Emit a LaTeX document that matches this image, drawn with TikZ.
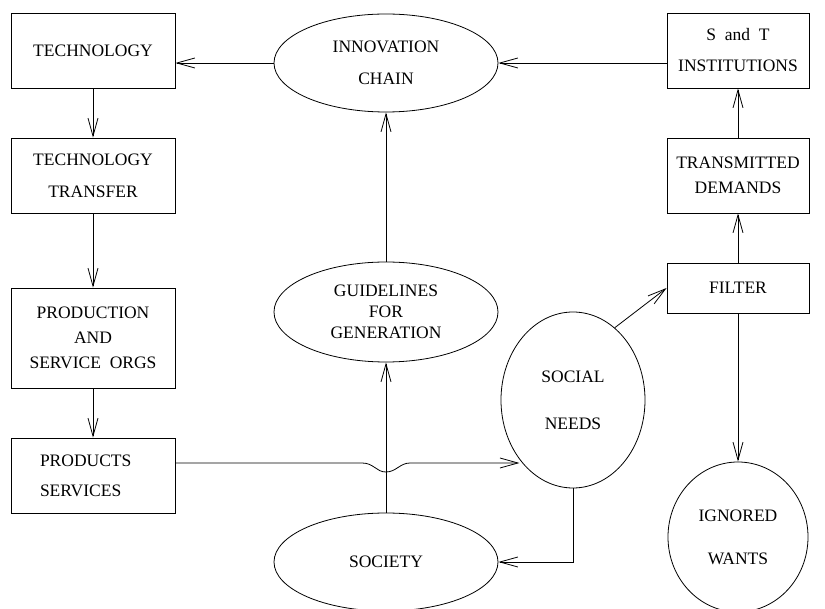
\documentclass[tikz,border=0pt]{standalone}
\usepackage{fontspec}
\setmainfont{Liberation Serif}
\usetikzlibrary{arrows.meta, shapes.geometric}

\begin{document}
\begin{tikzpicture}[x=1pt, y=-1pt,
  box/.style={draw, rectangle, minimum width=164pt, minimum height=75pt, inner sep=0pt,
              align=center},
  oval/.style={draw, ellipse, inner sep=0pt, align=center},
  lh/.style={font=\fontsize{17.5}{#1}\selectfont},
  lh/.default=21,
  arr/.style={-{Straight Barb[length=18pt, width=10pt]}},
  line width=0.8pt
]
  \useasboundingbox (0,0) rectangle (825,609);

  \node[box, lh] (tech)     at (93,50.5)  {TECHNOLOGY};
  \node[box, lh=32] (transfer) at (93,175.5) {TECHNOLOGY\\TRANSFER};
  \node[box, lh=25, minimum height=100pt] (prod) at (93,338) {PRODUCTION\\AND\\SERVICE\ \ ORGS};
  \node[box, lh=30, text width=106pt, align=left] (goods) at (93,475.5) {PRODUCTS\\SERVICES};

  \node[oval, lh=32, minimum width=224pt, minimum height=98pt]  (chain)   at (386,63)  {INNOVATION\\CHAIN};
  \node[oval, lh=21, minimum width=224pt, minimum height=100pt] (guide)   at (386,312) {GUIDELINES\\FOR\\GENERATION};
  \node[oval, lh, minimum width=224pt, minimum height=98pt]     (society) at (386,562) {SOCIETY};
  \node[oval, lh=47, minimum width=144pt, minimum height=176pt] (needs)   at (573,400) {SOCIAL\\NEEDS};
  \node[oval, lh=43, minimum width=140pt, minimum height=150pt] (wants)   at (738,537) {IGNORED\\WANTS};

  \node[box, lh=31, minimum width=142pt] (st)      at (738,50.5)  {S\ \ and\ \ T\\INSTITUTIONS};
  \node[box, lh=25, minimum width=142pt] (demands) at (738,175.5) {TRANSMITTED\\DEMANDS};
  \node[box, lh, minimum width=142pt, minimum height=50pt] (filter) at (738,288) {FILTER};

  \coordinate (hopstart) at ([yshift=12.5pt]goods.east);

  \draw[arr] (tech) -- (transfer);
  \draw[arr] (transfer) -- (prod);
  \draw[arr] (prod) -- (goods);
  \draw[arr] (chain.west) -- ([yshift=-12.5pt]tech.east);
  \draw[arr] ([yshift=-12.5pt]st.west) -- (chain.east);
  \draw[arr] (guide) -- (chain);
  \draw[arr] (society) -- (guide);
  \draw[arr] (demands) -- (st);
  \draw[arr] (filter) -- (demands);
  \draw[arr] (filter) -- (wants);
  \draw[arr] (needs.60) -- (filter.west);
  \draw[arr] (needs.south) |- (society.east);
  \draw[arr] (hopstart) -- (362,463) .. controls (374,463) and (376,472) .. (386,472)
    .. controls (396,472) and (400,463) .. (410,463) -- (needs.228 |- hopstart);
\end{tikzpicture}
\end{document}
